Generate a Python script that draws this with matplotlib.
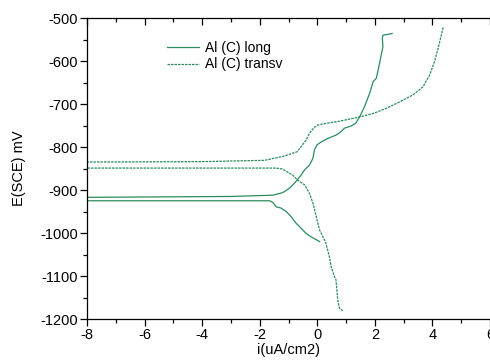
import matplotlib
matplotlib.use("Agg")
import matplotlib.pyplot as plt
from matplotlib.ticker import MultipleLocator

plt.rcParams['font.family'] = ['Liberation Sans', 'DejaVu Sans']
plt.rcParams['axes.unicode_minus'] = False

# Al (C) long : cathodic branch, off-scale excursion, anodic branch
long_i = [0.08, -0.21, -0.39, -0.62, -0.74, -0.91, -1.08, -1.26, -1.43, -1.54, -1.66, -3.0, -8.0, -30.0,
          -30.0, -8.0, -3.0, -1.54, -1.2, -0.97, -0.79, -0.68, -0.56, -0.44, -0.27, -0.15, -0.1, -0.01,
          0.14, 0.37, 0.66, 0.83, 0.95, 1.18, 1.33, 1.47, 1.64, 1.82, 1.94, 2.05, 2.14, 2.22, 2.28,
          2.26, 2.28, 2.6]
long_E = [-1020, -1009, -1001, -985, -977, -962, -950, -942, -939, -929, -925, -925, -925, -925,
          -917, -917, -915, -912, -906, -896, -884, -875, -865, -853, -842, -826, -807, -795,
          -788, -780, -772, -764, -756, -751, -745, -730, -706, -675, -648, -640, -613, -586, -567,
          -547, -540, -536]

# Al (C) transv
transv_i = [0.89, 0.77, 0.71, 0.65, 0.60, 0.48, 0.42, 0.30, 0.25, 0.08, 0.02, -0.15, -0.27, -0.44,
            -0.68, -0.86, -1.04, -1.21, -1.45, -8.0, -30.0,
            -30.0, -8.0, -4.0, -1.84, -1.2, -0.7, -0.56, -0.39, -0.27, -0.13, 0.01, 0.3, 0.77,
            1.41, 1.94, 2.4, 2.86, 3.32, 3.67, 3.9, 4.07, 4.21, 4.38]
transv_E = [-1181, -1175, -1156, -1109, -1102, -1078, -1055, -1024, -1016, -993, -977, -931, -908, -888,
            -877, -865, -858, -851, -849, -849, -849,
            -835, -835, -834, -831, -822, -811, -799, -784, -768, -756, -749, -745, -740,
            -731, -722, -710, -695, -679, -660, -633, -602, -567, -520]

color = '#2a8c5c'

fig = plt.figure(figsize=(4.9, 3.64), dpi=100)
ax = fig.add_axes([0.1776, 0.1236, 0.8224, 0.8269])

ax.plot(long_i, long_E, color=color, lw=0.9, label='Al (C) long')
ax.plot(transv_i, transv_E, color=color, lw=0.9, ls=(0, (2, 0.8)), label='Al (C) transv')

ax.set_xlim(-8, 6)
ax.set_ylim(-1200, -500)
ax.xaxis.set_major_locator(MultipleLocator(2))
ax.xaxis.set_minor_locator(MultipleLocator(1))
ax.yaxis.set_major_locator(MultipleLocator(100))
ax.yaxis.set_minor_locator(MultipleLocator(50))

ax.tick_params(axis='both', which='major', length=5, width=0.9, labelsize=10.5, direction='out', pad=1.5)
ax.tick_params(axis='both', which='minor', length=3, width=0.9, direction='out')
ax.tick_params(axis='x', which='both', top=True)
for s in ax.spines.values():
    s.set_linewidth(0.9)
ax.spines['right'].set_visible(False)

# top ticks point inward
for t in ax.xaxis.get_major_ticks() + ax.xaxis.get_minor_ticks():
    t.tick2line.set_marker(3)

ax.set_xlabel('i(uA/cm2)', fontsize=10.5, labelpad=1)
ax.set_ylabel('E(SCE) mV', fontsize=10.5, labelpad=10)

ax.legend(loc='upper left', bbox_to_anchor=(0.175, 0.955), frameon=False, fontsize=10,
          handlelength=2.3, handletextpad=0.4, labelspacing=0.15, borderpad=0.2)

fig.savefig('out.png', dpi=100)
